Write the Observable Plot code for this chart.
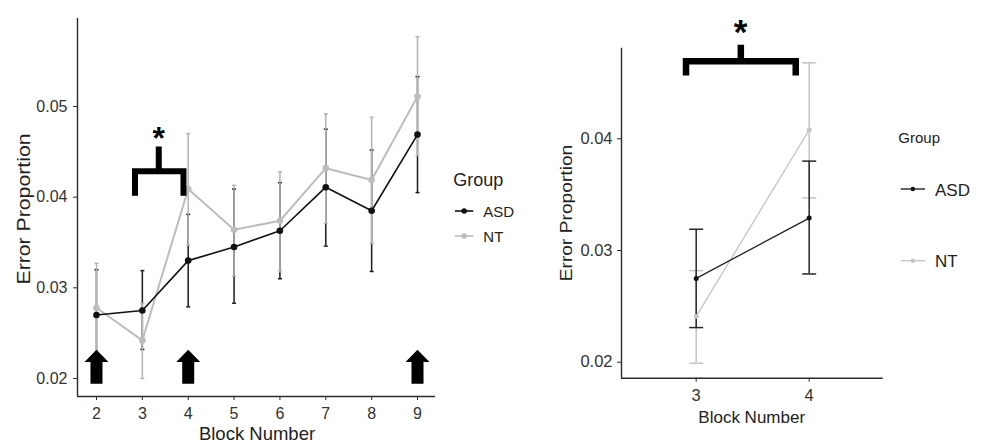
<!DOCTYPE html>
<html>
<head>
<meta charset="utf-8">
<script src="https://cdn.jsdelivr.net/npm/d3@7"></script>
<script src="https://cdn.jsdelivr.net/npm/@observablehq/plot@0.6"></script>
<style>
  html, body { margin: 0; padding: 0; background: #fff; }
  #wrap { position: relative; width: 983px; height: 444px; overflow: hidden; font-family: "Liberation Sans", Arial, sans-serif; }
  #wrap > * { position: absolute; top: 0; }
  #left { left: 0; }
  #right { left: 540px; }
  #overlay { left: 0; pointer-events: none; }
</style>
</head>
<body>
<div id="wrap">
  <div id="left"></div>
  <div id="right"></div>
  <svg id="overlay" width="983" height="444"></svg>
</div>
<script>
// ---------- data ----------
const blocks   = [2, 3, 4, 5, 6, 7, 8, 9];
const asdMean  = [0.0270, 0.0275, 0.0330, 0.0345, 0.0363, 0.0411, 0.0385, 0.0469];
const asdLow   = [0.0220, 0.0232, 0.0279, 0.0283, 0.0310, 0.0346, 0.0318, 0.0405];
const asdHigh  = [0.0320, 0.0319, 0.0381, 0.0409, 0.0416, 0.0475, 0.0452, 0.0533];
const ntMean   = [0.0278, 0.0242, 0.0409, 0.0364, 0.0374, 0.0432, 0.0419, 0.0511];
const ntLow    = [0.0229, 0.0200, 0.0347, 0.0313, 0.0318, 0.0371, 0.0349, 0.0446];
const ntHigh   = [0.0327, 0.0283, 0.0470, 0.0413, 0.0428, 0.0492, 0.0488, 0.0577];

const subBlocks   = [3, 4];
const asdSubMean  = [0.0275, 0.0329];
const asdSubLow   = [0.0231, 0.0279];
const asdSubHigh  = [0.0319, 0.0380];
const ntSubMean   = [0.0241, 0.0408];
const ntSubLow    = [0.0199, 0.0347];
const ntSubHigh   = [0.0282, 0.0468];

const groups = ["ASD", "NT"];
const yTicksLeft  = [0.02, 0.03, 0.04, 0.05];
const yTicksRight = [0.02, 0.03, 0.04];

// annotations
const arrowBlocks = [2, 4, 9];
const arrowLevel  = 0.0213;
const bracketLeftX  = [2.840, 2.840, 3.897, 3.897, 3.358, 3.358];
const bracketLeftY  = [0.04015, 0.04286, 0.04286, 0.04015, 0.04286, 0.04559];
const bracketRightX = [2.910, 2.910, 3.881, 3.881, 3.395, 3.395];
const bracketRightY = [0.04567, 0.04695, 0.04695, 0.04567, 0.04695, 0.04842];
const bracketPart   = ["a", "a", "a", "a", "b", "b"];
const starLeft  = {x: 3.358, y: 0.04735};
const starRight = {x: 3.392, y: 0.05030};

// ---------- helpers ----------
const colors = {ASD: "#111111", NT: "#bdbdbd"};
const barColors = {ASD: "#1a1a1a", NT: "#b3b3b3"};
function rows(xs, mean, low, high, group) {
  return xs.map((x, i) => ({x, mean: mean[i], low: low[i], high: high[i], group}));
}
const leftASD = rows(blocks, asdMean, asdLow, asdHigh, "ASD");
const leftNT  = rows(blocks, ntMean, ntLow, ntHigh, "NT");
const rightASD = rows(subBlocks, asdSubMean, asdSubLow, asdSubHigh, "ASD");
const rightNT  = rows(subBlocks, ntSubMean, ntSubLow, ntSubHigh, "NT");
const bracketL = bracketLeftX.map((x, i) => ({x, y: bracketLeftY[i], part: bracketPart[i]}));
const bracketR = bracketRightX.map((x, i) => ({x, y: bracketRightY[i], part: bracketPart[i]}));

const capSymbol = {draw(ctx, size) { const r = Math.sqrt(size / Math.PI); ctx.moveTo(-r, 0); ctx.lineTo(r, 0); }};
const arrowSymbol = {draw(ctx, size) {
  const s = Math.sqrt(size / Math.PI) / 17;
  ctx.moveTo(0, -17 * s);
  ctx.lineTo(12 * s, -4.6 * s);
  ctx.lineTo(6 * s, -4.6 * s);
  ctx.lineTo(6 * s, 17 * s);
  ctx.lineTo(-6 * s, 17 * s);
  ctx.lineTo(-6 * s, -4.6 * s);
  ctx.lineTo(-12 * s, -4.6 * s);
  ctx.closePath();
}};

function errorMarks(data, color, width, capR) {
  return [
    Plot.ruleX(data, {x: "x", y1: "low", y2: "high", stroke: color, strokeWidth: width}),
    Plot.dot(data, {x: "x", y: "low", symbol: capSymbol, r: capR, fill: "none", stroke: color, strokeWidth: width}),
    Plot.dot(data, {x: "x", y: "high", symbol: capSymbol, r: capR, fill: "none", stroke: color, strokeWidth: width})
  ];
}
function bracketMark(data, width) {
  return Plot.line(data, {x: "x", y: "y", z: "part", stroke: "#000", strokeWidth: width,
    strokeLinejoin: "miter", strokeLinecap: "butt", strokeMiterlimit: 10});
}
const axisColor = "#2b2b2b";
const fmt = d3.format(".2f");

// ---------- left panel ----------
const xDomL = [1.586, 9.3925], yDomL = [0.01801, 0.05971];
const left = Plot.plot({
  width: 455, height: 444,
  marginLeft: 77, marginRight: 20, marginTop: 18, marginBottom: 48,
  x: {domain: xDomL},
  y: {domain: yDomL},
  style: {fontFamily: "'Liberation Sans', Arial, sans-serif", fontSize: "16px", background: "transparent", color: "#333"},
  marks: [
    Plot.axisX({ticks: blocks, tickFormat: d3.format("d"), tickSize: 4, tickPadding: 7, label: null, fontSize: 16, color: "#333", stroke: axisColor}),
    Plot.axisY({ticks: yTicksLeft, tickFormat: fmt, tickSize: 4, tickPadding: 6, label: null, fontSize: 16, color: "#333", stroke: axisColor}),
    Plot.ruleX([xDomL[0]], {stroke: axisColor, strokeWidth: 1.4}),
    Plot.ruleY([yDomL[0]], {stroke: axisColor, strokeWidth: 1.4}),
    ...errorMarks(leftASD, barColors.ASD, 1.5, 2),
    ...errorMarks(leftNT, barColors.NT, 1.5, 2),
    Plot.line(leftNT, {x: "x", y: "mean", stroke: colors.NT, strokeWidth: 2}),
    Plot.line(leftASD, {x: "x", y: "mean", stroke: colors.ASD, strokeWidth: 1.6}),
    Plot.dot(leftNT, {x: "x", y: "mean", r: 3.3, fill: colors.NT, stroke: "none"}),
    Plot.dot(leftASD, {x: "x", y: "mean", r: 3.3, fill: colors.ASD, stroke: "none"}),
    Plot.dot(arrowBlocks, {x: d => d, y: () => arrowLevel, symbol: arrowSymbol, r: 17, fill: "#000", stroke: "none"}),
    bracketMark(bracketL, 6),
    Plot.text([starLeft], {x: "x", y: "y", text: () => "*", fontSize: 32, fontWeight: "bold", fill: "#000", dy: 8})
  ]
});
document.getElementById("left").appendChild(left);

// ---------- right panel ----------
const xDomR = [2.339, 4.655], yDomR = [0.018568, 0.04811];
const right = Plot.plot({
  width: 360, height: 444,
  marginLeft: 81, marginRight: 17.3, marginTop: 47.7, marginBottom: 66.3,
  x: {domain: xDomR},
  y: {domain: yDomR},
  style: {fontFamily: "'Liberation Sans', Arial, sans-serif", fontSize: "16px", background: "transparent", color: "#333", overflow: "visible"},
  marks: [
    Plot.axisX({ticks: subBlocks, tickFormat: d3.format("d"), tickSize: 4, tickPadding: 7, label: null, fontSize: 16.5, color: "#333", stroke: axisColor}),
    Plot.axisY({ticks: yTicksRight, tickFormat: fmt, tickSize: 4, tickPadding: 5, label: null, fontSize: 16.5, color: "#333", stroke: axisColor}),
    Plot.ruleX([xDomR[0]], {stroke: axisColor, strokeWidth: 1.4}),
    Plot.ruleY([yDomR[0]], {stroke: axisColor, strokeWidth: 1.4}),
    ...errorMarks(rightNT, "#c4c4c4", 1.5, 7),
    ...errorMarks(rightASD, "#262626", 1.5, 7),
    Plot.line(rightNT, {x: "x", y: "mean", stroke: "#c4c4c4", strokeWidth: 1.3}),
    Plot.line(rightASD, {x: "x", y: "mean", stroke: "#222", strokeWidth: 1.3}),
    Plot.dot(rightNT, {x: "x", y: "mean", r: 2.5, fill: "#c4c4c4", stroke: "none"}),
    Plot.dot(rightASD, {x: "x", y: "mean", r: 2.5, fill: "#111", stroke: "none"}),
    bracketMark(bracketR, 6.5),
    Plot.text([starRight], {x: "x", y: "y", text: () => "*", fontSize: 35, fontWeight: "bold", fill: "#000", dy: 9})
  ]
});
document.getElementById("right").appendChild(right);

// ---------- overlay: axis titles and legends ----------
const ov = d3.select("#overlay");
const ff = "'Liberation Sans', Arial, sans-serif";
function txt(x, y, s, size, opts = {}) {
  const t = ov.append("text").attr("x", x).attr("y", y).text(s)
    .attr("font-family", ff).attr("font-size", size).attr("fill", opts.fill || "#222")
    .attr("text-anchor", opts.anchor || "start");
  return t;
}
// axis titles
txt(257, 439.6, "Block Number", 18.5, {anchor: "middle"});
txt(0, 0, "Error Proportion", 18, {anchor: "middle"})
  .attr("transform", "translate(29.5,209) rotate(-90) scale(1.18,1)");
txt(751.7, 423.3, "Block Number", 17, {anchor: "middle"});
txt(0, 0, "Error Proportion", 16, {anchor: "middle"})
  .attr("transform", "translate(572,213) rotate(-90) scale(1.2,1)");

// legends
function legend(title, tx, ty, tsize, items) {
  txt(tx, ty, title, tsize);
  items.forEach(it => {
    ov.append("line").attr("x1", it.x1).attr("x2", it.x2).attr("y1", it.y).attr("y2", it.y)
      .attr("stroke", it.color).attr("stroke-width", it.w);
    ov.append("circle").attr("cx", (it.x1 + it.x2) / 2).attr("cy", it.y).attr("r", it.r).attr("fill", it.color);
    txt(it.tx, it.y + it.off, it.label, it.size);
  });
}
legend("Group", 453.3, 186, 18, [
  {label: groups[0], color: colors.ASD, x1: 455, x2: 473.3, y: 211, w: 1.6, r: 2.8, tx: 483.3, off: 5.5, size: 15},
  {label: groups[1], color: colors.NT, x1: 455, x2: 473.3, y: 236, w: 1.6, r: 2.8, tx: 483.3, off: 5.5, size: 15}
]);
legend("Group", 898.3, 143.3, 15, [
  {label: groups[0], color: "#111", x1: 900.7, x2: 925, y: 189, w: 1.3, r: 2.2, tx: 935, off: 6.5, size: 17},
  {label: groups[1], color: "#c4c4c4", x1: 900.7, x2: 925, y: 260.7, w: 1.3, r: 2.2, tx: 935, off: 6.5, size: 17}
]);
</script>
</body>
</html>
